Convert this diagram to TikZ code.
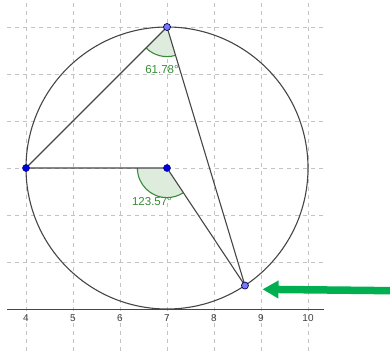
\documentclass[tikz,border=0pt]{standalone}
\usepackage{fontspec}
\setmainfont{Liberation Sans}
\usetikzlibrary{arrows.meta}
\definecolor{gridgray}{RGB}{195,195,195}
\definecolor{linegray}{RGB}{70,70,70}
\definecolor{anglegreen}{RGB}{55,140,55}
\definecolor{anglefill}{RGB}{222,236,222}
\definecolor{darkpt}{RGB}{0,0,220}
\definecolor{lightpt}{RGB}{120,120,250}
\definecolor{arrowgreen}{RGB}{0,176,80}
\tikzset{
  gridline/.style={gridgray, line width=0.8pt, dash pattern=on 4pt off 4pt},
  geoline/.style={linegray, line width=1.1pt},
  sector/.style={fill=anglefill},
  anglearc/.style={anglegreen, line width=1.1pt},
  anglelabel/.style={text=anglegreen, font=\fontsize{11.5}{12}\selectfont, inner sep=0pt},
  ticklabel/.style={text=black!75, font=\fontsize{10}{11}\selectfont, inner sep=0pt},
  darkpoint/.style={circle, fill=darkpt, draw=darkpt!60!black, line width=0.5pt, minimum size=7pt, inner sep=0pt},
  lightpoint/.style={circle, fill=lightpt, draw=darkpt!40!black, line width=0.7pt, minimum size=7pt, inner sep=0pt}
}
\begin{document}
\begin{tikzpicture}[x=47pt,y=47pt]
\useasboundingbox (3.4468,-0.8936) rectangle (11.7447,6.5745);
% grid
\foreach \gx in {4,...,10} \draw[gridline] (\gx,-0.8936) -- (\gx,6.5745);
\foreach \gy in {1,...,6} \draw[gridline] (3.596,\gy) -- (10.33,\gy);
% axis
\draw[linegray, line width=1pt] (3.596,0) -- (10.33,0);
\foreach \gx in {4,...,10} \node[ticklabel] (t\gx) at (\gx,-0.2) {\gx};
% points
\coordinate (Ac) at (4,3);
\coordinate (Oc) at (7,3);
\coordinate (Bc) at (7,6);
\coordinate (Cc) at (8.6584,0.4995);
% sectors
\fill[sector] (Bc) -- ++(225:0.63) arc[start angle=225, end angle=286.78, radius=0.63] -- cycle;
\draw[anglearc] ([shift={(225:0.63)}]Bc) arc[start angle=225, end angle=286.78, radius=0.63];
\fill[sector] (Oc) -- ++(180:0.63) arc[start angle=180, end angle=303.57, radius=0.63] -- cycle;
\draw[anglearc] ([shift={(180:0.63)}]Oc) arc[start angle=180, end angle=303.57, radius=0.63];
% circle
\draw[geoline] (Oc) circle[radius=3];
% segments
\draw[geoline] (Ac) -- (Bc) -- (Cc);
\draw[geoline] (Ac) -- (Oc) -- (Cc);
% point markers
\node[darkpoint] (A) at (Ac) {};
\node[darkpoint] (O) at (Oc) {};
\node[lightpoint] (B) at (Bc) {};
\node[lightpoint] (C) at (Cc) {};
% labels
\node[anglelabel] (lb) at (6.894,5.085) {61.78°};
\node[anglelabel] (lo) at (6.68,2.283) {123.57°};
% arrow
\coordinate (as) at (11.75,0.39);
\coordinate (ae) at (9.032,0.419);
\draw[arrowgreen, line width=7.5pt, -{Triangle[length=16pt,width=17pt]}] (as) -- (ae);
\end{tikzpicture}
\end{document}
